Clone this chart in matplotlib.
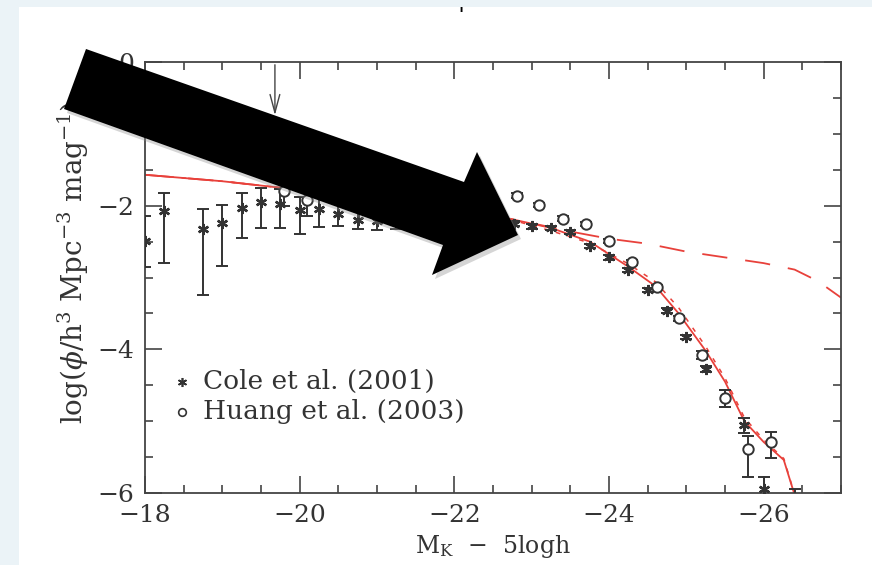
import matplotlib
matplotlib.use("Agg")
import matplotlib.pyplot as plt
from matplotlib.patches import Polygon, Rectangle

# Cole et al. (2001): magnitude, log phi, lower / upper error
cole_m = [-18.0, -18.25, -18.75, -19.0, -19.25, -19.5, -19.75, -20.0, -20.25, -20.5,
          -20.75, -21.0, -21.25, -21.5, -21.75, -22.0, -22.25, -22.5, -22.77, -23.0,
          -23.25, -23.5, -23.75, -24.0, -24.25, -24.5, -24.75, -25.0, -25.25, -25.5,
          -25.75, -26.0, -26.4]
cole_y = [-2.49, -2.07, -2.33, -2.24, -2.03, -1.95, -1.97, -2.06, -2.05, -2.12,
          -2.20, -2.22, -2.22, -2.22, -2.22, -2.22, -2.23, -2.24, -2.25, -2.29,
          -2.31, -2.37, -2.56, -2.72, -2.90, -3.17, -3.46, -3.83, -4.27, -4.68,
          -5.06, -5.95, -6.10]
cole_lo = [0.36, 0.73, 0.92, 0.60, 0.42, 0.36, 0.34, 0.34, 0.25, 0.17,
           0.13, 0.12, 0.10, 0.08, 0.07, 0.06, 0.05, 0.04, 0.03, 0.03,
           0.03, 0.03, 0.03, 0.03, 0.03, 0.03, 0.03, 0.03, 0.04, 0.12,
           0.10, 0.30, 0.20]
cole_hi = [0.34, 0.25, 0.28, 0.25, 0.21, 0.20, 0.20, 0.18, 0.17, 0.17,
           0.13, 0.12, 0.10, 0.08, 0.07, 0.06, 0.05, 0.04, 0.03, 0.03,
           0.03, 0.03, 0.03, 0.03, 0.03, 0.03, 0.03, 0.03, 0.04, 0.12,
           0.10, 0.17, 0.15]

# Huang et al. (2003)
huang_m = [-19.8, -20.1, -22.81, -23.10, -23.40, -23.70, -24.0, -24.30, -24.62,
           -24.90, -25.20, -25.50, -25.80, -26.10]
huang_y = [-1.80, -1.92, -1.86, -1.99, -2.18, -2.26, -2.49, -2.79, -3.13,
           -3.57, -4.08, -4.68, -5.39, -5.29]
huang_lo = [0.21, 0.23, 0.03, 0.03, 0.03, 0.03, 0.03, 0.03, 0.03, 0.03, 0.06, 0.12, 0.39, 0.22]
huang_hi = [0.21, 0.23, 0.03, 0.03, 0.03, 0.03, 0.03, 0.03, 0.03, 0.03, 0.06, 0.12, 0.19, 0.14]

# model curves
solid_m = [-18, -19, -20, -21, -22, -22.75, -23.25, -23.75, -24.25, -24.6, -24.9,
           -25.25, -25.5, -25.75, -26.0, -26.26, -26.45]
solid_y = [-1.57, -1.66, -1.78, -1.92, -2.06, -2.19, -2.31, -2.50, -2.85, -3.12, -3.50,
           -4.02, -4.45, -5.00, -5.29, -5.54, -6.20]
dotted_m = [-18, -19, -20, -21, -22, -22.75, -23.25, -23.75, -24.25, -24.6, -24.9,
            -25.25, -25.5, -25.75, -26.0, -26.26, -26.45]
dotted_y = [-1.57, -1.66, -1.78, -1.92, -2.06, -2.20, -2.35, -2.52, -2.81, -3.06, -3.42,
            -3.96, -4.40, -4.95, -5.26, -5.52, -6.20]
dashed_m = [-18, -19, -20, -21, -22, -22.75, -23.25, -23.5, -24.0, -24.5, -25.0,
            -25.5, -26.0, -26.4, -26.7, -27.0]
dashed_y = [-1.57, -1.66, -1.78, -1.92, -2.06, -2.19, -2.30, -2.36, -2.46, -2.53, -2.64,
            -2.72, -2.80, -2.89, -3.05, -3.28]

legend_labels = ["Cole et al. (2001)", "Huang et al. (2003)"]

# overlay arrow outline, in pixels of the 872x565 picture
arrow_px = [(86, 49), (464, 182), (477, 152), (518, 235), (432, 275), (443, 245), (64, 109)]

W, H = 872, 565
RED = "#e8413b"
INK = "#333333"

plt.rcParams["font.family"] = "DejaVu Serif"
plt.rcParams["mathtext.fontset"] = "dejavuserif"

fig = plt.figure(figsize=(W / 100, H / 100), dpi=100)
fig.patch.set_facecolor("#ebf3f7")
fig.add_artist(Rectangle((19 / W, 0), 1, 1 - 7 / H, transform=fig.transFigure,
                         facecolor="white", edgecolor="none", zorder=-5))

ax = fig.add_axes([145 / W, (H - 493) / H, (841 - 145) / W, (493 - 62) / H])
ax.set_xlim(-18, -27)
ax.set_ylim(-6, 0)

ax.plot(solid_m, solid_y, color=RED, lw=1.3, zorder=2)
ax.plot(dotted_m, dotted_y, color=RED, lw=1.1, dashes=(3, 5), zorder=2)
ax.plot(dashed_m, dashed_y, color=RED, lw=1.3, dashes=(14, 10), zorder=2)

ax.errorbar(cole_m, cole_y, yerr=[cole_lo, cole_hi], fmt="none", ecolor=INK,
            elinewidth=1.4, capsize=4, capthick=1.4, zorder=3)
ax.plot(cole_m, cole_y, ls="none", marker=(6, 2, 0), ms=8, mew=1.7, color=INK, zorder=4)
ax.errorbar(huang_m, huang_y, yerr=[huang_lo, huang_hi], fmt="none", ecolor=INK,
            elinewidth=1.4, capsize=4, capthick=1.4, zorder=3)
ax.plot(huang_m, huang_y, ls="none", marker="o", ms=7.5, mfc="white", mec=INK, mew=1.4, zorder=4)

# legend drawn by hand
ax.plot([0.053], [0.258], transform=ax.transAxes, marker=(6, 2, 0), ms=6.5, mew=1.2, color=INK)
ax.plot([0.053], [0.188], transform=ax.transAxes, marker="o", ms=5.5, mfc="white", mec=INK, mew=1.2)
ax.text(0.083, 0.258, legend_labels[0], transform=ax.transAxes, va="center", fontsize=19, color=INK)
ax.text(0.083, 0.188, legend_labels[1], transform=ax.transAxes, va="center", fontsize=19, color=INK)

ax.annotate("", xy=(-19.68, -0.78), xytext=(-19.68, 0),
            arrowprops=dict(arrowstyle="->,head_length=1.3,head_width=0.35", color="#444444", lw=1.0))

ax.set_xticks([-18, -20, -22, -24, -26])
ax.set_xticklabels(["\u221218", "\u221220", "\u221222", "\u221224", "\u221226"])
ax.set_xticks([-18 - 0.5 * i for i in range(19)], minor=True)
ax.set_yticks([-6, -4, -2, 0])
ax.set_yticklabels(["\u22126", "\u22124", "\u22122", "0"])
ax.set_yticks([-0.5 * i for i in range(13)], minor=True)
ax.tick_params(which="both", direction="in", top=True, right=True, color="#444444",
               labelsize=18, labelcolor=INK, width=1.2)
ax.tick_params(which="major", length=12, pad=8)
ax.tick_params(which="minor", length=6)
for sp in ax.spines.values():
    sp.set_color("#444444")
    sp.set_linewidth(1.3)

ax.set_xlabel(r"M$_{\rm K}$  $-$  5logh", fontsize=17, color=INK, labelpad=4)
ax.set_ylabel(r"log($\phi$/h$^3$ Mpc$^{-3}$ mag$^{-1}$)", fontsize=20, color=INK, labelpad=4)
ax.yaxis.set_label_coords(-0.078, 0.535)

fig.text(461 / W, 1 - 14 / H, "'", fontsize=12, fontweight="bold", color="black",
         ha="center", va="center")

# big black overlay arrow with a soft shadow
shadow = [((x + 3) / W, 1 - (y + 4) / H) for x, y in arrow_px]
fig.add_artist(Polygon(shadow, closed=True, transform=fig.transFigure,
                       facecolor="#888888", edgecolor="none", alpha=0.35, zorder=9))
fig.add_artist(Polygon([(x / W, 1 - y / H) for x, y in arrow_px], closed=True,
                       transform=fig.transFigure, facecolor="black", edgecolor="none", zorder=10))

fig.savefig("out.png", dpi=100)
